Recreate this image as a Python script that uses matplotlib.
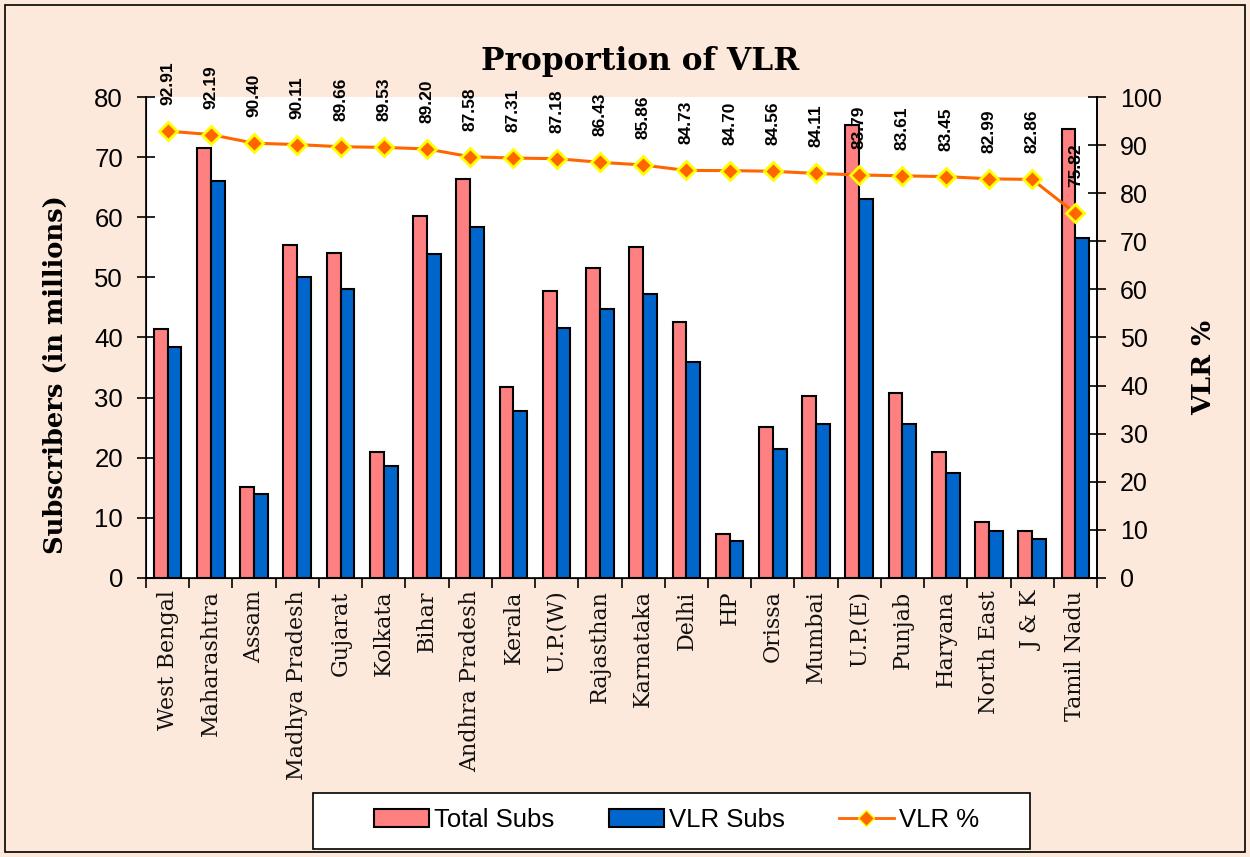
import numpy as np
import matplotlib.pyplot as plt
from matplotlib.patches import Rectangle
from matplotlib.lines import Line2D

# circle data
circles = ["West Bengal", "Maharashtra", "Assam", "Madhya Pradesh", "Gujarat",
           "Kolkata", "Bihar", "Andhra Pradesh", "Kerala", "U.P.(W)", "Rajasthan",
           "Karnataka", "Delhi", "HP", "Orissa", "Mumbai", "U.P.(E)", "Punjab",
           "Haryana", "North East", "J & K", "Tamil Nadu"]
total_subs = [41.4, 71.5, 15.1, 55.4, 54.1, 21.0, 60.2, 66.4, 31.8, 47.8, 51.6,
              55.1, 42.6, 7.3, 25.1, 30.3, 75.4, 30.8, 21.0, 9.3, 7.8, 74.7]
vlr_subs = [38.4, 66.1, 14.0, 50.1, 48.1, 18.6, 53.9, 58.4, 27.8, 41.6, 44.8,
            47.3, 35.9, 6.2, 21.5, 25.6, 63.1, 25.6, 17.5, 7.8, 6.5, 56.6]
vlr_pct = [92.91, 92.19, 90.40, 90.11, 89.66, 89.53, 89.20, 87.58, 87.31, 87.18,
           86.43, 85.86, 84.73, 84.70, 84.56, 84.11, 83.79, 83.61, 83.45, 82.99,
           82.86, 75.82]

BG = "#FDE9DB"
SERIF = "DejaVu Serif"
SANS = "Liberation Sans"
W, H = 1250, 857

fig = plt.figure(figsize=(12.5, 8.57), dpi=100, facecolor=BG)
fig.patches.append(Rectangle((0.004, 0.006), 0.992, 0.988, transform=fig.transFigure,
                             fill=False, edgecolor="black", linewidth=1.2))

ax = fig.add_axes([0.1168, 0.3256, 0.7608, 0.5612])
ax.set_facecolor("white")
x = np.arange(len(circles))
w = 0.32
ax.bar(x - w / 2, total_subs, w, color="#FF8080", edgecolor="black", linewidth=1.5,
       label="Total Subs", zorder=2)
ax.bar(x + w / 2, vlr_subs, w, color="#0066CC", edgecolor="black", linewidth=1.5,
       label="VLR Subs", zorder=2)
ax.set_xlim(-0.5, len(circles) - 0.5)
ax.set_ylim(0, 80)
ax.set_yticks(range(0, 81, 10))
ax.set_xticks(np.arange(len(circles) + 1) - 0.5)
ax.set_xticklabels([])
ax.set_xticks(x, minor=True)
ax.set_xticklabels(circles, minor=True, rotation=90, fontfamily=SERIF, fontsize=16,
                   color="#111111")
ax.tick_params(axis="x", which="minor", length=0, pad=9)
ax.tick_params(axis="x", which="major", direction="out", length=7, width=1.2)
ax.tick_params(axis="y", direction="inout", length=13, width=1.2, labelsize=18.5, pad=10)
for lab in ax.get_yticklabels():
    lab.set_fontfamily(SANS)
ax.spines["top"].set_visible(False)
for s in ["left", "bottom", "right"]:
    ax.spines[s].set_linewidth(1.2)
ax.set_ylabel("Subscribers (in millions)", fontfamily=SERIF, fontweight="bold",
              fontsize=18.5)
ax.yaxis.set_label_coords(-0.082, 0.422)

ax2 = ax.twinx()
ax2.set_ylim(0, 100)
ax2.set_yticks(range(0, 101, 10))
ax2.plot(x, vlr_pct, color="#FF6600", linewidth=2.2, marker="D", markersize=9,
         markerfacecolor="#FF6600", markeredgecolor="#FFFF00", markeredgewidth=2,
         zorder=3, label="VLR %")
ax2.spines["top"].set_visible(False)
ax2.spines["right"].set_linewidth(1.2)
ax2.tick_params(axis="y", direction="inout", length=13, width=1.2, labelsize=18, pad=10)
for lab in ax2.get_yticklabels():
    lab.set_fontfamily(SANS)
ax2.set_ylabel("VLR %", fontfamily=SERIF, fontweight="bold", fontsize=19)
ax2.yaxis.set_label_coords(1.0995, 0.437)

for xi, v in zip(x, vlr_pct):
    ax2.annotate(f"{v:.2f}", (xi, v), xytext=(0, 26), textcoords="offset pixels",
                 rotation=90, ha="center", va="bottom", fontfamily=SANS,
                 fontweight="bold", fontsize=12.5, annotation_clip=False, zorder=4)

fig.text(0.512, 0.928, "Proportion of VLR", ha="center", va="center",
         fontfamily=SERIF, fontweight="bold", fontsize=22.5)

# legend box drawn separately so its padding can match the reference
fig.patches.append(Rectangle((313 / W, 1 - 849 / H), 717 / W, 56 / H,
                             transform=fig.transFigure, facecolor="white",
                             edgecolor="black", linewidth=1.2, zorder=5))
handles = [Rectangle((0, 0), 1, 1, facecolor="#FF8080", edgecolor="black", linewidth=1.5),
           Rectangle((0, 0), 1, 1, facecolor="#0066CC", edgecolor="black", linewidth=1.5),
           Line2D([], [], color="#FF6600", linewidth=2, marker="D", markersize=8,
                  markerfacecolor="#FF6600", markeredgecolor="#FFFF00")]
leg = fig.legend(handles, ["Total Subs", "VLR Subs", "VLR %"], loc="center",
                 bbox_to_anchor=(0.5412, 0.0432), ncol=3, frameon=False,
                 prop={"family": SANS, "size": 18.5}, borderpad=0.3,
                 columnspacing=2.1, handlelength=2.14, handletextpad=0.2)
leg.set_zorder(6)

fig.savefig("out.png", dpi=100, facecolor=BG)
